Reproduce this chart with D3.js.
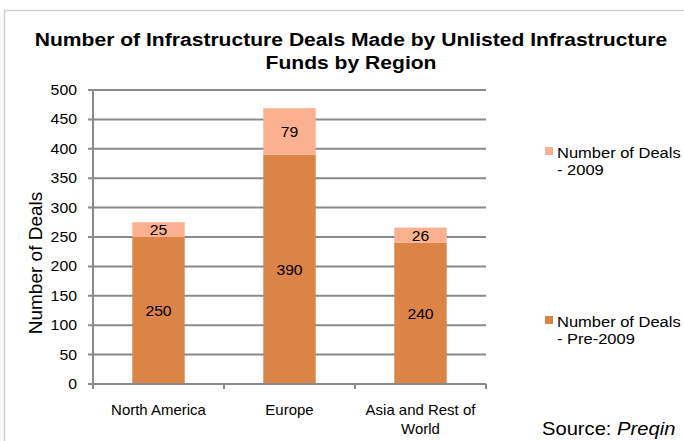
<!DOCTYPE html>
<html>
<head>
<meta charset="utf-8">
<script src="https://cdn.jsdelivr.net/npm/d3@7"></script>
<style>
  body { margin: 0; background: #fff; }
  text { font-family: "Liberation Sans", Arial, sans-serif; fill: #000; }
</style>
</head>
<body>
<div id="chart"></div>
<script>
(function() {
  var width = 684;
  var height = 441;

  var regions = ['North America', 'Europe', 'Asia and Rest of World'];
  var regionLines = [['North America'], ['Europe'], ['Asia and Rest of', 'World']];
  var pre2009 = [250, 390, 240];
  var deals2009 = [25, 79, 26];
  var legendLines = [['Number of Deals', '- 2009'], ['Number of Deals', '- Pre-2009']];
  var yTicks = [0, 50, 100, 150, 200, 250, 300, 350, 400, 450, 500];

  var darkColor = '#dc8446';
  var lightColor = '#fbb090';
  var gridColor = '#8a8a8a';

  var svg = d3.select('#chart').append('svg')
    .attr('width', width)
    .attr('height', height);

  /*
   * Adds a text that is stretched a bit sideways, like the original export
   */
  function addText(parent, str, px, py, size, sx, anchor) {
    return parent.append('text')
      .attr('transform', 'translate(' + px + ',' + py + ') scale(' + sx + ',1)')
      .attr('text-anchor', anchor || 'start')
      .style('font-size', size + 'px')
      .text(str);
  }

  // outer frame
  svg.append('rect')
    .attr('x', 4.5).attr('y', 10.5)
    .attr('width', width).attr('height', height)
    .attr('fill', 'none')
    .attr('stroke', '#d0d0d0')
    .attr('stroke-width', 1.5);

  var x = d3.scaleBand().domain(regions).range([93, 486]).paddingInner(0.6).paddingOuter(0.3);
  var y = d3.scaleLinear().domain([0, 500]).range([384, 90]);

  // gridlines
  svg.append('g').selectAll('line')
    .data(yTicks)
    .enter().append('line')
    .attr('x1', 88).attr('x2', 486)
    .attr('y1', function(d) { return y(d); })
    .attr('y2', function(d) { return y(d); })
    .attr('stroke', gridColor)
    .attr('stroke-width', 2);

  // y tick labels
  var yLabels = svg.append('g');
  yTicks.forEach(function(d) {
    addText(yLabels, d, 77, y(d) + 5, 14, 1.13, 'end');
  });

  // bars
  var bars = svg.append('g').selectAll('g')
    .data(regions)
    .enter().append('g');

  bars.append('rect')
    .attr('x', function(d) { return x(d); })
    .attr('width', x.bandwidth())
    .attr('y', function(d, i) { return y(pre2009[i]); })
    .attr('height', function(d, i) { return y(0) - y(pre2009[i]); })
    .attr('fill', darkColor);

  bars.append('rect')
    .attr('x', function(d) { return x(d); })
    .attr('width', x.bandwidth())
    .attr('y', function(d, i) { return y(pre2009[i] + deals2009[i]); })
    .attr('height', function(d, i) { return y(pre2009[i]) - y(pre2009[i] + deals2009[i]); })
    .attr('fill', lightColor);

  var valueLabels = svg.append('g');
  regions.forEach(function(d, i) {
    var cx = x(d) + x.bandwidth() / 2;
    addText(valueLabels, pre2009[i], cx, y(pre2009[i] / 2) + 5.5, 15, 1.05, 'middle');
    addText(valueLabels, deals2009[i], cx, y(pre2009[i] + deals2009[i] / 2) + 5.5, 15, 1.05, 'middle');
  });

  // y axis line and x axis
  svg.append('line')
    .attr('x1', 93).attr('x2', 93).attr('y1', 90).attr('y2', 384)
    .attr('stroke', gridColor).attr('stroke-width', 2);
  svg.append('line')
    .attr('x1', 93).attr('x2', 486).attr('y1', 384).attr('y2', 384)
    .attr('stroke', gridColor).attr('stroke-width', 2);

  var step = (486 - 93) / regions.length;
  svg.append('g').selectAll('line')
    .data(d3.range(regions.length + 1))
    .enter().append('line')
    .attr('x1', function(d) { return 93 + d * step; })
    .attr('x2', function(d) { return 93 + d * step; })
    .attr('y1', 384).attr('y2', 389)
    .attr('stroke', gridColor).attr('stroke-width', 2);

  // category labels
  var catLabels = svg.append('g');
  regions.forEach(function(d, i) {
    var cx = x(d) + x.bandwidth() / 2;
    regionLines[i].forEach(function(line, j) {
      addText(catLabels, line, cx, 415 + j * 19, 14, 1.07, 'middle');
    });
  });

  // title
  var title = svg.append('g').style('font-weight', 'bold');
  addText(title, 'Number of Infrastructure Deals Made by Unlisted Infrastructure', 351, 46, 19, 1.11, 'middle');
  addText(title, 'Funds by Region', 351, 69, 19, 1.11, 'middle');

  // y axis title
  svg.append('text')
    .attr('transform', 'translate(42,263) rotate(-90)')
    .attr('text-anchor', 'middle')
    .style('font-size', '19px')
    .text('Number of Deals');

  // legend
  var legendY = [158, 327];
  var legendColors = [lightColor, darkColor];
  var legend = svg.append('g');
  legendLines.forEach(function(lines, i) {
    legend.append('rect')
      .attr('x', 545).attr('y', legendY[i] - 11)
      .attr('width', 8).attr('height', 8)
      .attr('fill', legendColors[i]);
    lines.forEach(function(line, j) {
      addText(legend, line, 557, legendY[i] + j * 16.5, 15, 1.1, 'start');
    });
  });

  // source
  var src = svg.append('text')
    .attr('transform', 'translate(542,435) scale(1.12,1)')
    .style('font-size', '18px');
  src.append('tspan').text('Source: ');
  src.append('tspan').style('font-style', 'italic').text('Preqin');
})();
</script>
</body>
</html>
